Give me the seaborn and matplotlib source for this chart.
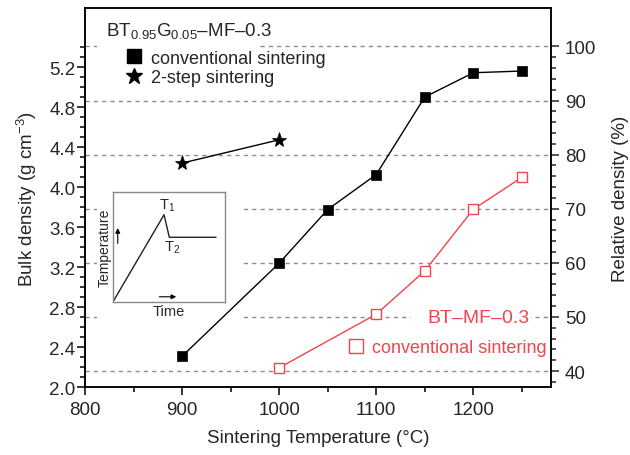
import numpy as np
import pandas as pd
import matplotlib
matplotlib.use("Agg")
import matplotlib.pyplot as plt
import seaborn as sns
from matplotlib.lines import Line2D
from matplotlib.patches import Rectangle
from matplotlib.ticker import FixedLocator

# ---------------- data ----------------
temps_conv = [900, 1000, 1050, 1100, 1150, 1200, 1250]
bulk_conv = [2.31, 3.24, 3.776, 4.126, 4.90, 5.143, 5.16]

temps_2step = [900, 1000]
bulk_2step = [4.24, 4.473]

temps_bt = [1000, 1100, 1150, 1200, 1250]
rel_bt = [40.6, 50.5, 58.5, 69.9, 75.8]

inset_time = [0.0, 0.457, 0.504, 0.92]
inset_temp = [0.0, 0.796, 0.591, 0.591]

x_ticks = [800, 900, 1000, 1100, 1200]
x_minor = [850, 950, 1050, 1150, 1250]
left_ticks = [2.0, 2.4, 2.8, 3.2, 3.6, 4.0, 4.4, 4.8, 5.2]
right_ticks = [40, 50, 60, 70, 80, 90, 100]
theo_density = 5.406  # g/cm3 -> 100 %

RED = "#f0454a"
GRID = "#8c8c8c"

sns.set_style("ticks")
plt.rcParams["font.family"] = ["Liberation Sans", "DejaVu Sans"]
plt.rcParams["mathtext.fontset"] = "custom"
plt.rcParams["mathtext.rm"] = "Liberation Sans"
plt.rcParams["mathtext.it"] = "Liberation Sans:italic"
plt.rcParams["axes.unicode_minus"] = True

fig = plt.figure(figsize=(6.3, 4.56), dpi=100)
ax = fig.add_axes([0.1349, 0.1485, 0.7397, 0.8318])
ax2 = ax.twinx()
ax.set_zorder(2)
ax.patch.set_visible(False)
ax2.set_zorder(1)

ylo, yhi = 2.0, 5.79
ax.set_xlim(800, 1280)
ax.set_ylim(ylo, yhi)
ax2.set_ylim(ylo / theo_density * 100, yhi / theo_density * 100)

# dashed reference lines (relative density)
for v in right_ticks:
    ax2.axhline(v, color=GRID, lw=1.0, ls=(0, (3, 3)), zorder=0.5)

# white masks behind annotations
ax2.add_patch(Rectangle((0.0258, 0.7733), 0.35, 0.211, transform=ax2.transAxes,
                        facecolor="white", edgecolor="none", zorder=1.5))
ax2.add_patch(Rectangle((0.0258, 0.1537), 0.307, 0.40, transform=ax2.transAxes,
                        facecolor="white", edgecolor="none", zorder=1.5))
ax2.add_patch(Rectangle((0.6996, 0.145), 0.2575, 0.075, transform=ax2.transAxes,
                        facecolor="white", edgecolor="none", zorder=1.5))

# data
sns.lineplot(x=temps_conv, y=bulk_conv, ax=ax, color="black", lw=1.0,
             marker="s", markersize=7.8, markeredgecolor="black",
             markerfacecolor="black", markeredgewidth=0.5)
sns.lineplot(x=temps_2step, y=bulk_2step, ax=ax, color="black", lw=1.0,
             marker="*", markersize=11, markeredgecolor="black",
             markerfacecolor="black", markeredgewidth=0.5)
sns.lineplot(x=temps_bt, y=rel_bt, ax=ax2, color=RED, lw=1.0,
             marker="s", markersize=7.2, markeredgecolor=RED,
             markerfacecolor="white", markeredgewidth=1.0, zorder=3)

# ticks
FS_TICK = 13.5
ax.set_xticks(x_ticks)
ax.xaxis.set_minor_locator(FixedLocator(x_minor))
ax.set_yticks(left_ticks)
ax.yaxis.set_minor_locator(FixedLocator(
    [v for v in np.round(np.arange(2.0, 5.41, 0.1), 2) if v not in left_ticks]))
ax.set_yticklabels([f"{v:.1f}" for v in left_ticks])
ax2.set_yticks(right_ticks)
ax2.yaxis.set_minor_locator(FixedLocator(
    [v for v in range(38, 100, 2) if v not in right_ticks]))
ax.tick_params(axis="both", which="major", length=6, width=1.1,
               labelsize=FS_TICK, direction="out", color="black")
ax.tick_params(axis="both", which="minor", length=3.5, width=1.1,
               direction="out", color="black")
ax.tick_params(axis="y", pad=1)
ax.tick_params(axis="x", pad=4)
ax2.tick_params(axis="y", which="major", length=6, width=1.1,
                labelsize=FS_TICK, direction="out", pad=4)
ax2.tick_params(axis="y", which="minor", length=3.5, width=1.1, direction="out")
for a in (ax, ax2):
    for s in a.spines.values():
        s.set_linewidth(1.1)
        s.set_color("black")
        s.set_visible(True)

ax.set_xlabel("Sintering Temperature (°C)", fontsize=13.5, labelpad=8)
ax.set_ylabel("Bulk density (g cm$^{\\mathregular{-3}}$)", fontsize=13.5, labelpad=7)
ax2.set_ylabel("Relative density (%)", fontsize=13.5, labelpad=11)

# top-left legend
ax2.text(0.0446, 0.968, "BT$_{\\mathregular{0.95}}$G$_{\\mathregular{0.05}}$–MF–0.3",
         transform=ax2.transAxes, fontsize=13.5, ha="left", va="top", zorder=5)
h1 = [Line2D([], [], color="black", marker="s", ls="none", markersize=9.5),
      Line2D([], [], color="black", marker="*", ls="none", markersize=12)]
leg1 = ax2.legend(h1, ["conventional sintering", "2-step sintering"],
                  loc="upper left", bbox_to_anchor=(0.0858, 0.89),
                  frameon=False, fontsize=13, handlelength=1.0,
                  handletextpad=0.42, labelspacing=0.15, borderpad=0,
                  borderaxespad=0)
ax2.add_artist(leg1)

# red legend
ax2.text(0.953, 0.183, "BT–MF–0.3", transform=ax2.transAxes, color=RED,
         fontsize=14, ha="right", va="center", zorder=5)
h2 = [Line2D([], [], color=RED, marker="s", ls="none", markersize=9.5,
             markerfacecolor="white", markeredgewidth=1.0)]
ax2.legend(h2, ["conventional sintering"], loc="upper left",
           bbox_to_anchor=(0.562, 0.127), frameon=False, fontsize=13,
           handlelength=1.0, handletextpad=0.38, borderpad=0, borderaxespad=0,
           labelcolor=RED)

# inset
axi = fig.add_axes([0.1789, 0.3349, 0.1783, 0.2412])
axi.set_zorder(3)
sns.lineplot(x=inset_time, y=inset_temp, ax=axi, color="#222222", lw=1.0, sort=False)
axi.set_xlim(0, 1)
axi.set_ylim(0, 1)
axi.set_xticks([])
axi.set_yticks([])
for s in axi.spines.values():
    s.set_color("#8a8a8a")
    s.set_linewidth(1.0)
axi.text(0.48, 0.89, "T$_{\\mathregular{1}}$", fontsize=10.5, ha="center", va="center")
axi.text(0.53, 0.50, "T$_{\\mathregular{2}}$", fontsize=10.5, ha="center", va="center")
axi.annotate("", xy=(0.045, 0.70), xytext=(0.045, 0.51),
             arrowprops=dict(arrowstyle="-|>", color="black", lw=0.8, mutation_scale=7))
axi.annotate("", xy=(0.59, 0.05), xytext=(0.39, 0.05),
             arrowprops=dict(arrowstyle="-|>", color="black", lw=0.8, mutation_scale=7))
axi.set_ylabel("Temperature", fontsize=10, labelpad=1)
axi.set_xlabel("Time", fontsize=10.5, labelpad=1)

fig.savefig("out.png", dpi=100)
